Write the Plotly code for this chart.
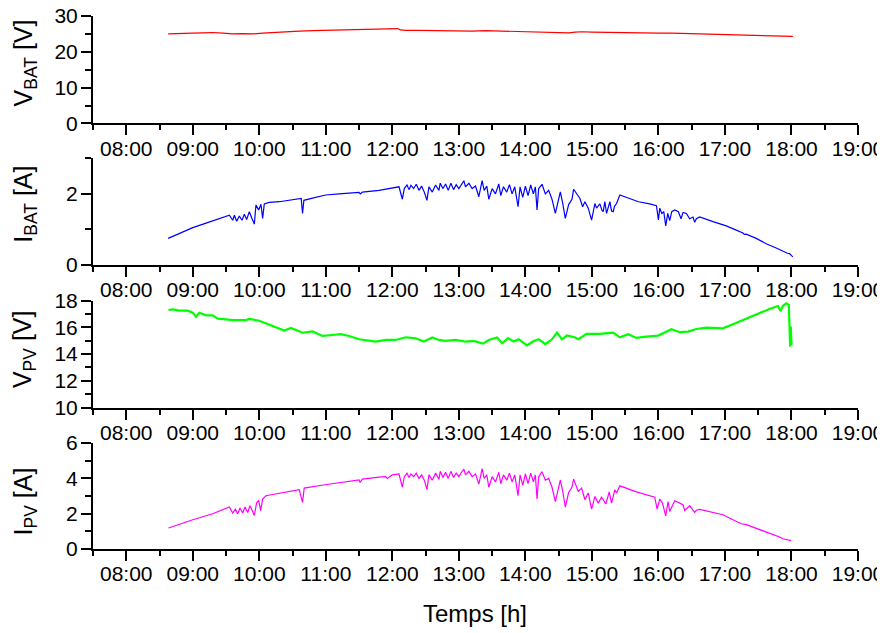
import plotly.graph_objects as go

# ---------------- data (time in decimal hours) ----------------
t_vbat = [8.63, 8.8, 9.0, 9.15, 9.3, 9.45, 9.6, 9.75, 9.9, 10.05, 10.2, 10.4, 10.6, 10.8, 11.0,
          11.2, 11.4, 11.6, 11.8, 12.0, 12.08, 12.12, 12.2, 12.4, 12.6, 12.8, 13.0, 13.2, 13.4,
          13.6, 13.8, 14.0, 14.2, 14.35, 14.45, 14.55, 14.65, 14.75, 14.85, 15.0, 15.2, 15.4,
          15.6, 15.8, 16.0, 16.2, 16.4, 16.6, 16.8, 17.0, 17.2, 17.4, 17.6, 17.8, 18.02]
v_bat = [25.0, 25.0, 25.2, 25.3, 25.4, 25.2, 25.0, 25.1, 25.0, 25.2, 25.4, 25.6, 25.8, 25.9, 26.0,
         26.1, 26.1, 26.2, 26.3, 26.4, 26.5, 26.1, 26.0, 26.0, 25.9, 25.9, 25.9, 25.8, 25.9,
         25.8, 25.7, 25.7, 25.7, 25.6, 25.4, 25.5, 25.3, 25.5, 25.6, 25.5, 25.4, 25.4,
         25.3, 25.3, 25.2, 25.2, 25.1, 25.1, 25.0, 24.9, 24.8, 24.7, 24.6, 24.5, 24.3]

t_ibat = [8.63, 8.8, 9.0, 9.2, 9.4, 9.55,
          9.6, 9.625, 9.66, 9.7, 9.74, 9.775, 9.81, 9.85, 9.885, 9.925, 9.95, 9.99, 10.025, 10.05,
          10.075, 10.15, 10.3, 10.6,
          10.63, 10.65, 10.67, 10.8, 11.0, 11.2, 11.5, 11.52, 11.55, 11.8, 12.0, 12.1,
          12.15, 12.18, 12.22, 12.25, 12.28, 12.32, 12.36, 12.4, 12.44, 12.48, 12.52, 12.55, 12.6,
          12.65, 12.7, 12.72, 12.76, 12.8, 12.84, 12.88, 12.92, 12.96, 13.0, 13.04, 13.075, 13.1,
          13.15, 13.2, 13.25, 13.3, 13.35, 13.38, 13.42, 13.45, 13.5, 13.55, 13.6, 13.63, 13.67,
          13.72, 13.76, 13.8, 13.84, 13.89, 13.92, 13.96, 14.0, 14.04, 14.08, 14.12, 14.15, 14.175,
          14.2, 14.25, 14.3, 14.35, 14.4, 14.45, 14.5, 14.525, 14.56, 14.6, 14.65, 14.7, 14.725,
          14.82, 14.86, 14.895, 14.945, 14.995, 15.045, 15.07, 15.12, 15.15, 15.17, 15.195, 15.22,
          15.25, 15.27, 15.295, 15.32, 15.34, 15.37, 15.42,
          15.52, 15.7, 15.87, 15.97, 16.0, 16.02, 16.05, 16.08, 16.11, 16.14, 16.17, 16.2, 16.245,
          16.3, 16.34, 16.37, 16.42, 16.47, 16.52, 16.545, 16.57, 16.62, 16.82, 17.02, 17.17, 17.27,
          17.29, 17.32, 17.47, 17.62, 17.77, 17.9, 17.94, 17.97, 18.02]
i_bat = [0.75, 0.88, 1.05, 1.18, 1.30, 1.40,
         1.26, 1.40, 1.23, 1.38, 1.26, 1.43, 1.28, 1.50, 1.33, 1.15, 1.69, 1.55, 1.71, 1.31,
         1.72, 1.76, 1.78, 1.86,
         1.87, 1.45, 1.82, 1.88, 1.97, 2.00, 2.04, 2.00, 2.05, 2.10, 2.17, 2.20,
         1.85, 2.15, 2.25, 2.12, 2.24, 2.15, 2.27, 2.10, 2.22, 2.05, 1.82, 2.20, 2.05,
         2.25, 2.10, 2.30, 2.15, 2.28, 2.10, 2.30, 2.12, 2.26, 2.15, 2.28, 2.37, 2.20,
         2.30, 2.15, 2.22, 1.92, 2.37, 2.10, 2.22, 1.85, 2.15, 2.00, 2.28, 1.95, 2.20,
         2.05, 2.26, 2.00, 2.20, 1.64, 2.20, 1.90, 2.22, 1.95, 2.25, 2.00, 2.20, 1.55,
         2.15, 2.27, 2.00, 2.10, 1.85, 1.45, 1.90, 2.06, 1.75, 1.31, 1.70, 1.85, 2.13,
         1.87, 1.64, 1.78, 1.60, 1.26, 1.73, 1.60, 1.72, 1.54, 1.50, 1.78, 1.45,
         1.70, 1.78, 1.52, 1.50, 1.65, 1.73, 1.97,
         1.90, 1.78, 1.72, 1.67, 1.27, 1.60, 1.45, 1.50, 1.10, 1.45, 1.25, 1.50, 1.55,
         1.50, 1.30, 1.48, 1.45, 1.30, 1.35, 1.20, 1.30, 1.35, 1.22, 1.10, 0.98, 0.90,
         0.86, 0.87, 0.75, 0.60, 0.48, 0.35, 0.33, 0.32, 0.23]

t_vpv = [8.635, 8.7, 8.8, 8.925, 9.0, 9.05, 9.1, 9.2, 9.3, 9.375, 9.5, 9.6, 9.8, 9.85, 10.0,
         10.1, 10.25, 10.375, 10.475, 10.6, 10.65, 10.8, 10.95, 11.1, 11.225, 11.35, 11.5, 11.65,
         11.75, 11.9, 12.05, 12.2, 12.35, 12.475, 12.6, 12.7, 12.8, 12.95, 13.1, 13.225, 13.36,
         13.45, 13.575, 13.65, 13.74, 13.825, 13.9, 14.025, 14.125, 14.2, 14.3, 14.4, 14.475,
         14.55, 14.625, 14.75, 14.795, 14.92, 15.12, 15.32, 15.42, 15.545, 15.67, 15.82, 15.995,
         16.195, 16.32, 16.445, 16.57, 16.72, 16.87, 16.97, 17.12, 17.27, 17.47, 17.67, 17.795,
         17.835, 17.87, 17.92, 17.96, 17.98, 17.99, 18.0]
v_pv = [17.30, 17.35, 17.25, 17.25, 17.10, 16.80, 17.10, 16.90, 16.90, 16.66, 16.60, 16.55, 16.55,
        16.63, 16.50, 16.30, 16.00, 15.76, 15.96, 15.70, 15.60, 15.70, 15.36, 15.43, 15.50, 15.36,
        15.11, 15.01, 14.94, 15.06, 15.06, 15.26, 15.19, 14.94, 15.24, 15.06, 14.99, 15.06, 14.94,
        14.99, 14.79, 15.06, 15.24, 14.81, 15.19, 14.94, 15.11, 14.66, 14.98, 15.11, 14.74, 15.11,
        15.61, 15.11, 15.39, 15.24, 15.11, 15.51, 15.51, 15.61, 15.26, 15.49, 15.21, 15.31, 15.39,
        15.86, 15.64, 15.69, 15.88, 15.98, 15.98, 15.93, 16.23, 16.55, 16.98, 17.38, 17.60,
        17.23, 17.60, 17.80, 17.68, 14.56, 16.06, 14.68]

t_ipv = [8.635, 9.0, 9.3, 9.55, 9.6, 9.64, 9.675, 9.71, 9.75, 9.785, 9.825, 9.86, 9.9, 9.925,
         9.96, 9.99, 10.02, 10.05, 10.1, 10.35, 10.6, 10.65, 10.675, 10.985, 11.25, 11.5, 11.515,
         11.55, 11.8, 11.9, 11.925, 12.0, 12.1,
         12.15, 12.18, 12.22, 12.25, 12.28, 12.32, 12.36, 12.4, 12.44, 12.48, 12.52, 12.55, 12.6,
         12.65, 12.7, 12.72, 12.76, 12.8, 12.84, 12.88, 12.92, 12.96, 13.0, 13.04, 13.075, 13.1,
         13.15, 13.2, 13.25, 13.3, 13.35, 13.38, 13.42, 13.45, 13.5, 13.55, 13.6, 13.63, 13.67,
         13.72, 13.76, 13.8, 13.84, 13.89, 13.92, 13.96, 14.0, 14.04, 14.08, 14.12, 14.15, 14.175,
         14.2, 14.25, 14.3, 14.35, 14.4, 14.45, 14.5, 14.525, 14.56, 14.6, 14.65, 14.7, 14.725,
         14.795, 14.845, 14.895, 14.945, 14.995, 15.045, 15.095, 15.145, 15.21, 15.26, 15.295,
         15.345, 15.37, 15.42,
         15.67, 15.945, 15.98, 16.02, 16.06, 16.11, 16.145, 16.17, 16.245, 16.32, 16.37, 16.395,
         16.47, 16.545, 16.57, 16.62, 16.97, 17.12, 17.17, 17.245, 17.32, 17.57, 17.82, 17.87,
         17.995]
i_pv = [1.19, 1.66, 2.00, 2.38, 2.04, 2.26, 2.00, 2.32, 2.04, 2.38, 2.07, 2.45, 2.13, 1.90,
        2.62, 2.75, 2.18, 2.83, 3.02, 3.17, 3.36, 2.64, 3.45, 3.64, 3.80, 3.92, 3.77,
        3.96, 4.07, 4.10, 4.00, 4.20, 4.25,
        3.50, 4.10, 4.30, 4.05, 4.25, 4.10, 4.30, 4.00, 4.20, 3.90, 3.36, 4.20, 3.90,
        4.30, 3.95, 4.40, 4.05, 4.35, 4.00, 4.40, 4.05, 4.30, 4.10, 4.35, 4.53, 4.20,
        4.40, 4.10, 4.25, 3.68, 4.55, 4.00, 4.20, 3.50, 4.10, 3.80, 4.35, 3.70, 4.20,
        3.90, 4.30, 3.80, 4.20, 3.02, 4.20, 3.60, 4.25, 3.70, 4.30, 3.80, 4.20, 2.83,
        4.10, 4.38, 3.90, 4.00, 3.50, 2.69, 3.60, 3.90, 3.30, 2.38, 3.20, 3.50, 3.96,
        3.26, 3.45, 2.79, 3.17, 2.26, 2.98, 2.60, 2.94, 2.55, 3.24, 2.60,
        3.36, 3.17, 3.58,
        3.24, 2.94, 2.26, 2.83, 2.60, 1.88, 2.69, 2.13, 2.73, 2.60, 2.50, 2.18,
        2.45, 2.07, 2.20, 2.25, 1.94, 1.66, 1.57, 1.43, 1.38, 1.04, 0.68, 0.58,
        0.47]

x_tickvals = [8, 9, 10, 11, 12, 13, 14, 15, 16, 17, 18, 19]
x_ticktext = ["08:00", "09:00", "10:00", "11:00", "12:00", "13:00", "14:00",
              "15:00", "16:00", "17:00", "18:00", "19:00"]

y_titles = ["V<sub>BAT</sub> [V]", "I<sub>BAT</sub> [A]", "V<sub>PV</sub> [V]", "I<sub>PV</sub> [A]"]
y_ranges = [[0, 30], [0, 3], [10, 18], [0, 6]]
y_dticks = [10, 2, 2, 2]
y_minor = [5, 1, 1, 1]
x_title = "Temps [h]"

# ---------------- layout geometry ----------------
# the page body adds an 8px margin, so target screen pixels are shifted back by OFF
W, H = 885, 633
OFF = 8
X0, X1 = 93.3, 857.7           # screen x of the plot area
Y0, Y1 = 15.7, 549.3           # screen y of the top/bottom of the stacked panels
ML = X0 - OFF
MR = W - (X1 - OFF)
MT = Y0 - OFF
MB = H - (Y1 - OFF)
PW, PH = W - ML - MR, H - MT - MB


def py(pix):
    return 1 - (pix - Y0) / PH


def px(pix):
    return (pix - X0) / PW


panel_pix = [(15.7, 123.3), (158.2, 265.0), (300.7, 407.7), (443.3, 549.3)]
title_centers = [62.5, 204.0, 349.5, 502.0]

FONT = "Liberation Sans, Arial, sans-serif"

series = [
    (t_vbat, v_bat, "#FF0000", 1.2),
    (t_ibat, i_bat, "#0000FF", 1.2),
    (t_vpv, v_pv, "#00FF00", 2.2),
    (t_ipv, i_pv, "#FF00FF", 1.2),
]

fig = go.Figure()
layout = dict(
    template="none",
    width=W, height=H,
    margin=dict(l=ML, r=MR, t=MT, b=MB, autoexpand=False),
    paper_bgcolor="white", plot_bgcolor="white",
    showlegend=False,
    font=dict(family=FONT, size=20, color="black"),
)

annotations = []
for i, (tx, ty, col, lw) in enumerate(series):
    n = "" if i == 0 else str(i + 1)
    fig.add_trace(go.Scatter(x=tx, y=ty, mode="lines", line=dict(color=col, width=lw),
                             xaxis="x" + n, yaxis="y" + n, hoverinfo="skip"))
    top, bot = panel_pix[i]
    layout["xaxis" + n] = dict(
        domain=[0, 1], anchor="y" + n, range=[7.5, 19], automargin=False,
        tickmode="array", tickvals=x_tickvals, ticktext=x_ticktext,
        showline=True, linecolor="black", linewidth=2, mirror=False,
        ticks="outside", ticklen=10, tickwidth=2, tickcolor="black",
        ticklabelstandoff=-5, ticklabeloverflow="allow",
        minor=dict(tickmode="linear", tick0=7.5, dtick=1, ticks="outside",
                   ticklen=5, tickwidth=2, tickcolor="black", showgrid=False),
        showgrid=False, zeroline=False,
        tickfont=dict(family=FONT, size=21, color="black"),
    )
    layout["yaxis" + n] = dict(
        domain=[py(bot), py(top)], anchor="x" + n, range=y_ranges[i], automargin=False,
        tickmode="linear", tick0=y_ranges[i][0], dtick=y_dticks[i],
        showline=True, linecolor="black", linewidth=2, mirror=False,
        ticks="outside", ticklen=10, tickwidth=2, tickcolor="black",
        ticklabelstandoff=-1, ticklabeloverflow="allow",
        minor=dict(tickmode="linear", tick0=y_ranges[i][0], dtick=y_minor[i], ticks="outside",
                   ticklen=6, tickwidth=2, tickcolor="black", showgrid=False),
        showgrid=False, zeroline=False,
        tickfont=dict(family=FONT, size=21, color="black"),
    )
    annotations.append(dict(
        text=y_titles[i], xref="paper", yref="paper",
        x=px(25), y=py(title_centers[i]), xanchor="center", yanchor="middle",
        textangle=-90, showarrow=False,
        font=dict(family=FONT, size=25, color="black"),
    ))

annotations.append(dict(
    text=x_title, xref="paper", yref="paper", x=px(475.5), y=py(614),
    xanchor="center", yanchor="middle", showarrow=False,
    font=dict(family=FONT, size=24, color="black"),
))
layout["annotations"] = annotations
fig.update_layout(**layout)
fig.write_html("out.html")
